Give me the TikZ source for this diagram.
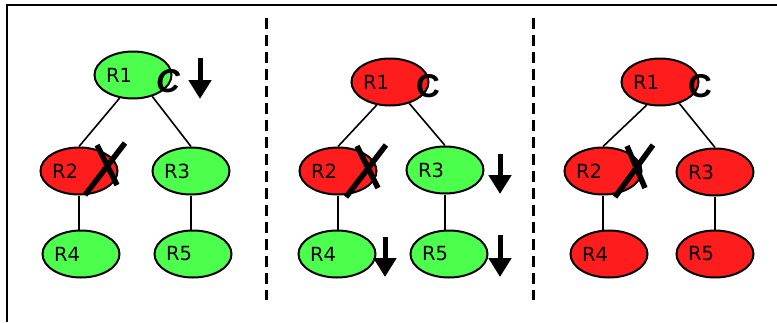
\documentclass[tikz,border=0pt]{standalone}
\usepackage{fontspec}
\setmainfont{DejaVu Sans}
\newfontfamily\markfont{Liberation Sans}
\usepackage{xcolor}
\usetikzlibrary{shapes.geometric, arrows.meta, positioning}

\definecolor{nodegreen}{RGB}{77,255,77}
\definecolor{nodered}{RGB}{255,28,28}

\begin{document}
\begin{tikzpicture}[x=1pt, y=-1pt,
  router/.style={ellipse, draw, line width=2pt, minimum width=77pt, minimum height=47pt, inner sep=0pt, text width=54pt, align=left, font=\fontsize{19.5}{22}\selectfont},
  up/.style={router, fill=nodegreen},
  down/.style={router, fill=nodered},
  link/.style={line width=1.6pt},
  stem/.style={line width=2.4pt},
  cut/.style={line width=5.5pt},
  ctrl/.style={inner sep=0pt, font=\markfont\fontsize{33}{33}\selectfont\bfseries},
  drop/.style={line width=5pt, -{Triangle[width=22pt,length=19pt]}},
  divider/.style={line width=3pt, dash pattern=on 11pt off 6pt}
]
\useasboundingbox (0,0) rectangle (777,322);

% frame
\draw[line width=2pt] (7,322) -- (7,5) -- (777,5);

% panel 1
\node[up] (p1r1) at (133,75) {R1};
\node[down] (p1r2) at (79,171) {R2};
\node[up] (p1r3) at (191,171) {R3};
\node[up] (p1r4) at (81,254) {R4};
\node[up] (p1r5) at (193,254) {R5};
\draw[link] (p1r1.240) -- (p1r2.north);
\draw[link] (p1r1.312) -- (p1r3.north);
\draw[stem] (p1r2.south) -- (p1r2.south |- p1r4.north);
\draw[stem] (p1r3.south) -- (p1r3.south |- p1r5.north);
\node[ctrl, font=\markfont\fontsize{33}{33}\selectfont\bfseries\itshape] (p1c) at (168,81) {C};
\draw[drop] (200,58) -- (200,99);
\draw[cut] (85,195) -- (125,143);
\draw[cut] (97,145) -- (117,185);

\draw[divider] (266,18) -- (266,300);

% panel 2
\node[down] (p2r1) at (390,82) {R1};
\node[down] (p2r2) at (338,171) {R2};
\node[up] (p2r3) at (445,170) {R3};
\node[up] (p2r4) at (337,254) {R4};
\node[up] (p2r5) at (449,254) {R5};
\draw[link] (p2r1.240) -- (p2r2.north);
\draw[link] (p2r1.312) -- (p2r3.north);
\draw[stem] (p2r2.south) -- (p2r2.south |- p2r4.north);
\draw[stem] (p2r3.south) -- (p2r3.south |- p2r5.north);
\node[ctrl] (p2c) at (428,86) {C};
\draw[drop] (500,154) -- (500,194);
\draw[drop] (385,237) -- (385,277);
\draw[drop] (500,235) -- (500,277);
\draw[cut] (346,197) -- (386,145);
\draw[cut] (357,146) -- (378,188);

\draw[divider] (533,18) -- (533,300);

% panel 3
\node[down] (p3r1) at (660,82) {R1};
\node[down] (p3r2) at (603,171) {R2};
\node[down] (p3r3) at (715,172) {R3};
\node[down] (p3r4) at (609,254) {R4};
\node[down] (p3r5) at (715,254) {R5};
\draw[link] (p3r1.240) -- (p3r2.north);
\draw[link] (p3r1.312) -- (p3r3.north);
\draw[stem] (p3r2.south) -- (p3r2.south |- p3r4.north);
\draw[stem] (p3r3.south) -- (p3r3.south |- p3r5.north);
\node[ctrl] (p3c) at (700,86) {C};
\draw[cut] (615,197) -- (653,145);
\draw[cut] (627,146) -- (645,188);

\end{tikzpicture}
\end{document}
